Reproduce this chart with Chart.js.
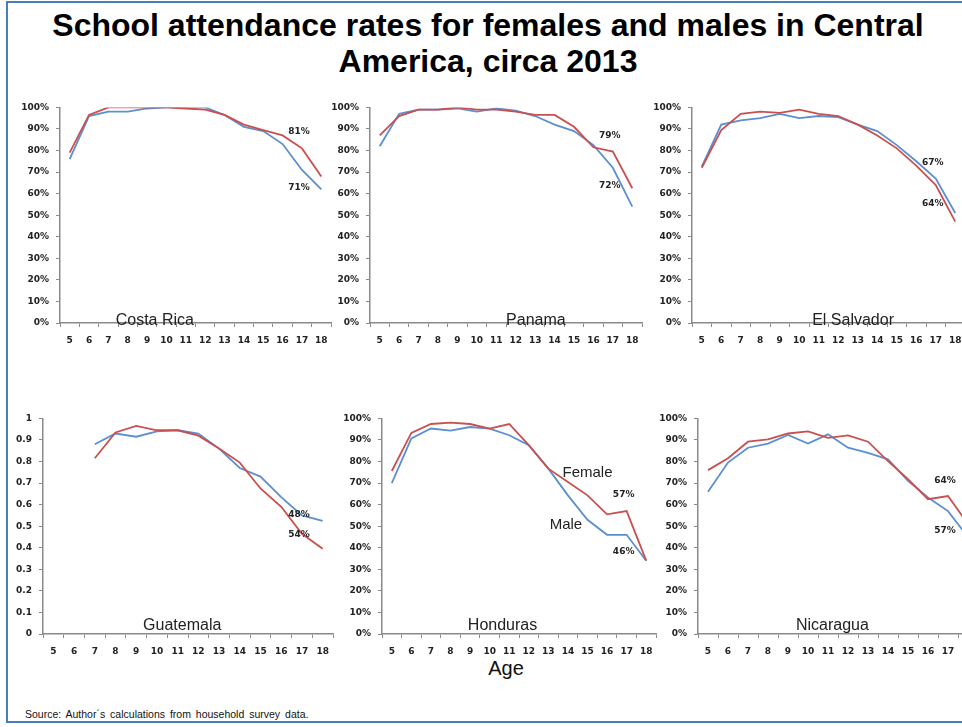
<!DOCTYPE html>
<html>
<head>
<meta charset="utf-8">
<script src="https://cdn.jsdelivr.net/npm/chart.js@4.4.0/dist/chart.umd.min.js"></script>
<style>
html,body{margin:0;padding:0;background:#fff;width:962px;height:727px;overflow:hidden;}
#frame{position:absolute;left:6px;top:1px;width:1000px;height:718px;border-left:2px solid #4a7ebb;border-top:2px solid #4a7ebb;border-bottom:2px solid #4a7ebb;}
.panel{position:absolute;}
#title{position:absolute;left:7px;width:962px;top:7px;text-align:center;font:bold 32px "Liberation Sans",Arial,sans-serif;line-height:36px;color:#000;white-space:nowrap;}
#age{position:absolute;left:456px;width:100px;top:657px;text-align:center;font:20px "Liberation Sans",Arial,sans-serif;color:#111;}
#source{position:absolute;left:25px;top:708px;font:10.5px "Liberation Sans",Arial,sans-serif;color:#111;word-spacing:2px;white-space:nowrap;}
</style>
</head>
<body>
<div id="frame"></div>
<div id="title">School attendance rates for females and males in Central<br>America, circa 2013</div>
<div id="age">Age</div>
<div id="source">Source: Author´s calculations from household survey data.</div>
<script>
// ---- data ----
const ages = ["5","6","7","8","9","10","11","12","13","14","15","16","17","18"];
const seriesNames = ["Female","Male"];
const countries = ["Costa Rica","Panama","El Salvador","Guatemala","Honduras","Nicaragua"];

const crFemale = [0.79,0.965,1.0,1.0,1.0,1.0,0.995,0.99,0.965,0.92,0.895,0.87,0.81,0.68];
const crMale   = [0.76,0.96,0.98,0.98,0.995,1.0,1.0,1.0,0.965,0.91,0.89,0.83,0.71,0.62];
const paFemale = [0.87,0.96,0.99,0.99,1.0,0.99,0.99,0.98,0.965,0.965,0.91,0.815,0.795,0.625];
const paMale   = [0.82,0.97,0.99,0.99,0.995,0.98,0.995,0.985,0.96,0.92,0.89,0.825,0.72,0.54];
const esFemale = [0.72,0.895,0.97,0.98,0.975,0.99,0.97,0.96,0.92,0.87,0.81,0.73,0.64,0.47];
const esMale   = [0.725,0.92,0.94,0.95,0.97,0.95,0.96,0.955,0.92,0.89,0.825,0.75,0.67,0.51];
const guFemale = [null,null,0.815,0.935,0.965,0.945,0.945,0.92,0.86,0.795,0.675,0.59,0.465,0.395];
const guMale   = [null,null,0.88,0.93,0.915,0.94,0.945,0.93,0.86,0.77,0.73,0.635,0.55,0.525];
const hoFemale = [0.756,0.933,0.974,0.98,0.974,0.953,0.974,0.876,0.767,0.705,0.643,0.555,0.57,0.34];
const hoMale   = [0.70,0.907,0.953,0.943,0.96,0.953,0.922,0.876,0.767,0.643,0.53,0.46,0.46,0.34];
const niFemale = [0.76,0.815,0.892,0.903,0.93,0.94,0.91,0.921,0.892,0.802,0.718,0.625,0.64,0.51];
const niMale   = [0.66,0.795,0.864,0.883,0.923,0.883,0.926,0.864,0.84,0.81,0.71,0.633,0.57,0.45];

const crLabels = ["81%","71%"];
const paLabels = ["79%","72%"];
const esLabels = ["67%","64%"];
const guLabels = ["48%","54%"];
const hoLabels = ["57%","46%"];
const niLabels = ["64%","57%"];

const yTicksPct = ["0%","10%","20%","30%","40%","50%","60%","70%","80%","90%","100%"];
const yTicksDec = ["0","0.1","0.2","0.3","0.4","0.5","0.6","0.7","0.8","0.9","1"];

// ---- styles / layout ----
const RED = "#c9504e", BLUE = "#5b8fd0";
const AX = "#8a8a8a";
const W = 45, P = 12, H = 30, R = 6, PH = 216;

const annotPlugin = {
  id: "annot",
  afterDatasetsDraw(chart, args, o) {
    const ctx = chart.ctx, ca = chart.chartArea;
    ctx.save();
    ctx.fillStyle = "#222";
    ctx.textAlign = "center";
    ctx.textBaseline = "alphabetic";
    ctx.font = '16px "Liberation Sans", Arial, sans-serif';
    ctx.fillText(o.title, ca.left + (ca.right - ca.left) * o.titleX, ca.bottom + o.titleDy);
    ctx.font = 'bold 9px "DejaVu Sans", sans-serif';
    ctx.textBaseline = "middle";
    (o.labels || []).forEach(l => {
      const pt = chart.getDatasetMeta(l.ds).data[l.idx];
      ctx.fillText(l.text, pt.x + l.dx, pt.y + l.dy);
    });
    ctx.font = '15px "Liberation Sans", Arial, sans-serif';
    (o.names || []).forEach(l => {
      const pt = chart.getDatasetMeta(l.ds).data[l.idx];
      ctx.fillText(l.text, pt.x + l.dx, pt.y + l.dy);
    });
    ctx.restore();
  }
};

function makePanel(cfg) {
  const cv = document.createElement("canvas");
  const cw = W + cfg.pw + R, chh = P + PH + H;
  const d = document.createElement("div");
  d.className = "panel";
  d.style.left = (cfg.ax - W) + "px";
  d.style.top = (cfg.top - P) + "px";
  d.style.width = cw + "px";
  d.style.height = chh + "px";
  d.appendChild(cv);
  document.body.appendChild(d);
  const tickTxt = cfg.dec ? yTicksDec : yTicksPct;
  new Chart(cv, {
    type: "line",
    data: {
      labels: ages,
      datasets: [
        { label: seriesNames[0], data: cfg.f, borderColor: RED, borderWidth: 1.8, pointRadius: 0, tension: 0, spanGaps: false },
        { label: seriesNames[1], data: cfg.m, borderColor: BLUE, borderWidth: 1.8, pointRadius: 0, tension: 0, spanGaps: false }
      ]
    },
    options: {
      responsive: true, maintainAspectRatio: false, animation: false,
      layout: { padding: { top: P, right: R, left: 0, bottom: 0 } },
      plugins: {
        legend: { display: false }, tooltip: { enabled: false },
        annot: {
          title: cfg.name, titleX: cfg.tx, titleDy: cfg.tdy,
          labels: [
            { ds: cfg.l1ds, idx: 12, text: cfg.lab[0], dx: -3, dy: cfg.l1dy },
            { ds: cfg.l2ds, idx: 12, text: cfg.lab[1], dx: -3, dy: cfg.l2dy }
          ],
          names: cfg.names || []
        }
      },
      scales: {
        x: {
          type: "category", offset: true,
          grid: { offset: true, drawOnChartArea: false, drawTicks: true, tickLength: 4, color: AX, lineWidth: 1 },
          border: { display: true, color: AX, width: 1.5 },
          ticks: { autoSkip: false, maxRotation: 0, padding: 8, color: "#222", font: { family: "DejaVu Sans", size: 9, weight: "bold" } },
          afterFit(s) { s.height = H; }
        },
        y: {
          min: 0, max: 1,
          grid: { drawOnChartArea: false, drawTicks: true, tickLength: 4, color: AX, lineWidth: 1 },
          border: { display: true, color: AX, width: 1.5 },
          ticks: {
            stepSize: 0.1, padding: 7, color: "#222",
            font: { family: "DejaVu Sans", size: 9, weight: "bold" },
            callback: (v) => tickTxt[Math.round(v * 10)]
          },
          afterFit(s) { s.width = W; }
        }
      }
    },
    plugins: [annotPlugin]
  });
}

makePanel({ name: countries[0], ax: 60,  top: 107, pw: 271, f: crFemale, m: crMale, lab: crLabels, l1ds: 0, l1dy: -17, l2ds: 1, l2dy: 18, tx: 0.35, tdy: 2 });
makePanel({ name: countries[1], ax: 370, top: 107, pw: 272, f: paFemale, m: paMale, lab: paLabels, l1ds: 0, l1dy: -16, l2ds: 1, l2dy: 18, tx: 0.61, tdy: 2 });
makePanel({ name: countries[2], ax: 692, top: 107, pw: 273, f: esFemale, m: esMale, lab: esLabels, l1ds: 1, l1dy: -16, l2ds: 0, l2dy: 19, tx: 0.59, tdy: 2 });
makePanel({ name: countries[3], ax: 43,  top: 418, pw: 290, f: guFemale, m: guMale, lab: guLabels, l1ds: 1, l1dy: -1, l2ds: 0, l2dy: 1, tx: 0.48, tdy: -4, dec: true });
makePanel({ name: countries[4], ax: 382, top: 418, pw: 274, f: hoFemale, m: hoMale, lab: hoLabels, l1ds: 0, l1dy: -16, l2ds: 1, l2dy: 17, tx: 0.44, tdy: -4,
  names: [ { ds: 0, idx: 10, text: seriesNames[0], dx: 0, dy: -23 }, { ds: 1, idx: 9, text: seriesNames[1], dx: -2, dy: 29 } ] });
makePanel({ name: countries[5], ax: 698, top: 418, pw: 280, f: niFemale, m: niMale, lab: niLabels, l1ds: 0, l1dy: -15, l2ds: 1, l2dy: 20, tx: 0.48, tdy: -4 });
</script>
</body>
</html>
